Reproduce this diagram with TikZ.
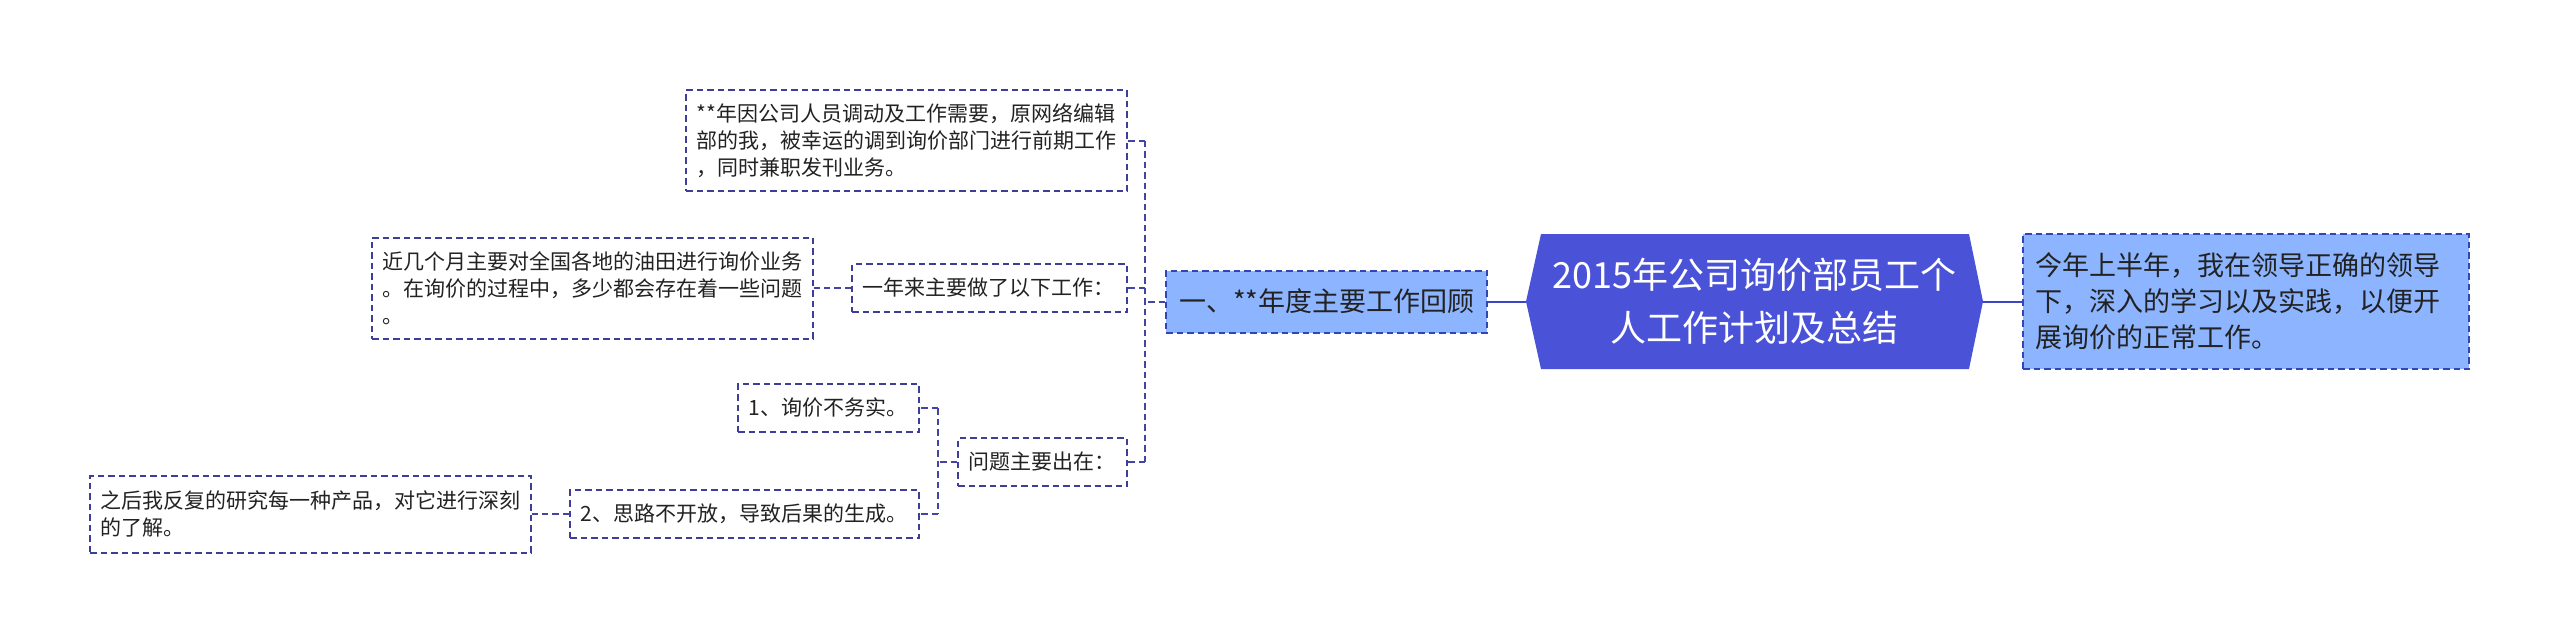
\documentclass[tikz,border=0pt]{standalone}
\usepackage{fontspec}
\setmainfont{Noto Sans CJK SC}
\definecolor{rootfill}{HTML}{4A52D8}
\definecolor{lightfill}{HTML}{8DB5FF}
\definecolor{lightborder}{HTML}{3344B8}
\definecolor{boxborder}{HTML}{3E3E98}
\definecolor{connc}{HTML}{4444A4}
\definecolor{solidc}{HTML}{3C46C4}
\definecolor{txt}{HTML}{222222}
\begin{document}
\begin{tikzpicture}[x=1pt,y=-1pt,
  dashline/.style={line width=2pt, dash pattern=on 6.5pt off 4pt},
  wbox/.style={draw=boxborder, dashline, fill=white, text=txt, align=left, inner xsep=10.5pt, inner ysep=0pt, font=\fontsize{21}{27}\selectfont},
  lbox/.style={draw=lightborder, dashline, fill=lightfill, text=txt, align=left, inner ysep=0pt},
  conn/.style={draw=connc, dashline},
  sconn/.style={draw=solidc, line width=2pt},
]
\useasboundingbox (0,0) rectangle (2560,643);

% root
\fill[rootfill] (1541,234) -- (1969,234) -- (1983,301.5) -- (1969,369) -- (1541,369) -- (1526,301.5) -- cycle;
\node[text=white, align=center, minimum width=457pt, minimum height=135pt, inner sep=0pt,
      font=\fontsize{36}{53}\selectfont] (root) at (1754.5,301.5) {2015年公司询价部员工个\\人工作计划及总结};

% right
\node[lbox, inner xsep=12pt, text width=422pt, minimum height=135pt, font=\fontsize{27}{36}\selectfont] (R) at (2246,301.5)
  {今年上半年，我在领导正确的领导\\下，深入的学习以及实践，以便开\\展询价的正常工作。};

% level 1
\node[lbox, inner xsep=13pt, text width=295pt, minimum height=62pt, font=\fontsize{27}{36}\selectfont] (L1) at (1326.5,301.5)
  {一、**年度主要工作回顾};

% level 2
\node[wbox, text width=420pt, minimum height=101pt] (A) at (906.5,140.5)
  {**年因公司人员调动及工作需要，原网络编辑\\部的我，被幸运的调到询价部门进行前期工作\\，同时兼职发刊业务。};
\node[wbox, text width=254pt, minimum height=48pt] (B) at (989.5,288) {一年来主要做了以下工作：};
\node[wbox, text width=148pt, minimum height=48pt] (C) at (1042.5,462) {问题主要出在：};

% level 3
\node[wbox, text width=420pt, minimum height=101pt] (D) at (592.5,288)
  {近几个月主要对全国各地的油田进行询价业务\\。在询价的过程中，多少都会存在着一些问题\\。};
\node[wbox, text width=160pt, minimum height=48pt] (E) at (828.5,408) {1、询价不务实。};
\node[wbox, text width=328pt, minimum height=48pt] (F) at (744.5,514) {2、思路不开放，导致后果的生成。};

% level 4
\node[wbox, text width=420pt, minimum height=77pt] (G) at (310.5,514)
  {之后我反复的研究每一种产品，对它进行深刻\\的了解。};

% connectors
\draw[sconn] (root.west) -- (L1.east);
\draw[sconn] (root.east) -- (R.west);

\coordinate (j1) at ([xshift=-20pt]L1.west);
\draw[conn] (L1.west) -- (j1);
\draw[conn] (j1 |- A.east) -- (j1 |- C.east);
\draw[conn] (j1 |- A.east) -- (A.east);
\draw[conn] (j1 |- B.east) -- (B.east);
\draw[conn] (j1 |- C.east) -- (C.east);

\draw[conn] (B.west) -- (D.east);

\coordinate (j2) at ([xshift=-19pt]C.west);
\draw[conn] (C.west) -- (j2);
\draw[conn] (j2 |- E.east) -- (j2 |- F.east);
\draw[conn] (j2 |- E.east) -- (E.east);
\draw[conn] (j2 |- F.east) -- (F.east);

\draw[conn] (F.west) -- (G.east);
\end{tikzpicture}
\end{document}
